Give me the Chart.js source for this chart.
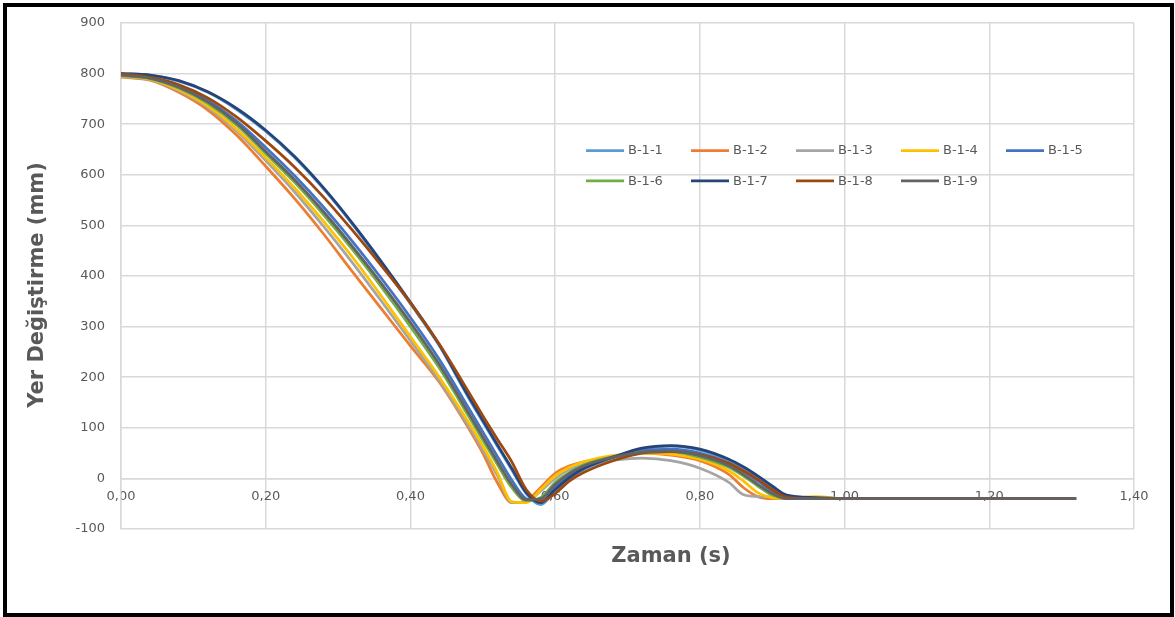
<!DOCTYPE html>
<html>
<head>
<meta charset="utf-8">
<script src="https://cdn.jsdelivr.net/npm/chart.js@4.4.1/dist/chart.umd.min.js"></script>
<style>
    body { margin: 0; background: #fff; }
    #frame {
        position: absolute; left: 3px; top: 3px;
        width: 1163px; height: 606px;
        border: 4px solid #000; background: #fff;
    }
    #frame canvas { display: block; }
</style>
</head>
<body>
<div id="frame"><canvas id="yerChart" width="1163" height="606"></canvas></div>
<script>
// Zaman (s)
const zaman = [0, 0.04, 0.08, 0.12, 0.16, 0.20, 0.24, 0.28, 0.32, 0.36, 0.40, 0.44, 0.48, 0.50, 0.52, 0.54, 0.56, 0.58,
               0.60, 0.62, 0.64, 0.68, 0.72, 0.76, 0.80, 0.84, 0.86, 0.88, 0.90, 0.92, 0.96, 1.00, 1.32];

// Yer degistirme (mm) per test
const b11 = [800, 797, 785, 763, 729, 686, 634, 572, 502, 425, 345, 262, 160, 112, 64, 17, -30, -52,
             -25, 0, 18, 40, 58, 64, 56, 35, 20, 2, -18, -35, -38, -40, -40];
const b12 = [793, 787, 763, 728, 678, 617, 553, 483, 408, 335, 262, 190, 100, 50, -8, -48, -44, -18,
             10, 25, 33, 43, 50, 46, 35, 8, -18, -36, -40, -40, -40, -40, -40];
const b13 = [794, 788, 766, 733, 686, 628, 566, 498, 426, 350, 272, 193, 104, 56, 6, -48, -46, -25,
             0, 18, 28, 36, 40, 35, 20, -8, -32, -36, -37, -38, -38, -40, -40];
const b14 = [795, 789, 768, 736, 690, 634, 574, 508, 437, 360, 280, 200, 112, 64, 12, -46, -48, -22,
             5, 22, 33, 45, 50, 48, 38, 15, -5, -28, -38, -40, -36, -40, -40];
const b15 = [798, 792, 775, 747, 706, 654, 598, 536, 468, 395, 318, 235, 140, 92, 44, -3, -40, -45,
             -18, 5, 22, 42, 55, 58, 50, 30, 14, -5, -25, -38, -40, -40, -40];
const b16 = [796, 790, 771, 741, 698, 642, 585, 521, 452, 378, 300, 218, 124, 76, 28, -18, -44, -38,
             -8, 12, 27, 43, 52, 53, 42, 22, 5, -15, -33, -40, -40, -40, -40];
const b17 = [800, 797, 786, 764, 731, 688, 636, 574, 504, 428, 348, 264, 163, 115, 67, 20, -28, -48,
             -22, 2, 20, 42, 60, 65, 58, 38, 23, 5, -15, -33, -38, -40, -40];
const b18 = [800, 793, 778, 752, 714, 667, 615, 556, 490, 420, 347, 265, 172, 124, 78, 33, -22, -45,
             -30, -5, 12, 35, 50, 53, 47, 30, 15, -2, -22, -37, -40, -40, -40];
const b19 = [797, 791, 773, 744, 702, 646, 590, 527, 458, 385, 308, 225, 130, 82, 34, -12, -42, -40,
             -12, 10, 25, 42, 52, 54, 45, 25, 8, -12, -30, -40, -40, -40, -40];

const seriesNames = ['B-1-1', 'B-1-2', 'B-1-3', 'B-1-4', 'B-1-5', 'B-1-6', 'B-1-7', 'B-1-8', 'B-1-9'];
const seriesValues = [b11, b12, b13, b14, b15, b16, b17, b18, b19];
const seriesColors = ['#5B9BD5', '#ED7D31', '#A5A5A5', '#FFC000', '#4472C4', '#70AD47', '#264478', '#9E480E', '#636363'];

const textGray = '#595959';
const gridGray = '#D9D9D9';

// legend drawn inside the plot, two rows like the Excel original
const inlineLegend = {
    id: 'inlineLegend',
    afterDatasetsDraw(chart) {
        const ctx = chart.ctx;
        const area = chart.chartArea;
        ctx.save();
        ctx.font = '13px "DejaVu Sans"';
        ctx.textBaseline = 'middle';
        ctx.fillStyle = textGray;
        chart.data.datasets.forEach((ds, i) => {
            const col = i % 5, row = Math.floor(i / 5);
            const x = area.left + 465 + col * 105;
            const y = area.top + 127.5 + row * 30.3;
            ctx.strokeStyle = ds.borderColor;
            ctx.lineWidth = 2.75;
            ctx.beginPath();
            ctx.moveTo(x, y);
            ctx.lineTo(x + 38, y);
            ctx.stroke();
            ctx.fillText(ds.label, x + 42, y + 0.5);
        });
        ctx.restore();
    }
};

// axis titles
const axisTitles = {
    id: 'axisTitles',
    afterDraw(chart) {
        const ctx = chart.ctx;
        ctx.save();
        ctx.fillStyle = textGray;
        ctx.font = 'bold 21px "DejaVu Sans"';
        ctx.textAlign = 'center';
        ctx.textBaseline = 'middle';
        ctx.fillText('Zaman (s)', 664, 550);
        ctx.translate(31, 278);
        ctx.rotate(-Math.PI / 2);
        ctx.fillText('Yer Değiştirme (mm)', 0, 0);
        ctx.restore();
    }
};

const ctx = document.getElementById('yerChart').getContext('2d');
const yerChart = new Chart(ctx, {
    type: 'line',
    data: {
        datasets: seriesNames.map((name, i) => ({
            label: name,
            data: zaman.map((t, k) => ({ x: t, y: seriesValues[i][k] })),
            borderColor: seriesColors[i],
            backgroundColor: seriesColors[i],
            borderWidth: 2.75,
            pointRadius: 0,
            fill: false,
            cubicInterpolationMode: 'monotone',
            order: seriesNames.length - 1 - i
        }))
    },
    options: {
        responsive: false,
        animation: false,
        layout: { padding: { top: 16, right: 36, bottom: 84, left: 0 } },
        scales: {
            x: {
                type: 'linear',
                position: { y: 0 },
                min: 0,
                max: 1.4,
                grid: { color: gridGray, lineWidth: 1.5, drawTicks: false },
                border: { color: gridGray, width: 1.5 },
                ticks: {
                    stepSize: 0.2,
                    padding: 10,
                    color: textGray,
                    font: { family: 'DejaVu Sans', size: 13 },
                    maxRotation: 0,
                    callback: function(value) {
                        return value.toFixed(2).replace('.', ',');
                    }
                }
            },
            y: {
                min: -100,
                max: 900,
                afterFit: function(scale) {
                    scale.width = 114;
                    scale.paddingTop = 0;
                    scale.paddingBottom = 0;
                },
                grid: { color: gridGray, lineWidth: 1.5, drawTicks: false },
                border: { color: gridGray, width: 1.5 },
                ticks: {
                    stepSize: 100,
                    padding: 16,
                    color: textGray,
                    font: { family: 'DejaVu Sans', size: 13 }
                }
            }
        },
        plugins: {
            legend: { display: false },
            tooltip: { enabled: false }
        }
    },
    plugins: [inlineLegend, axisTitles]
});
</script>
</body>
</html>
